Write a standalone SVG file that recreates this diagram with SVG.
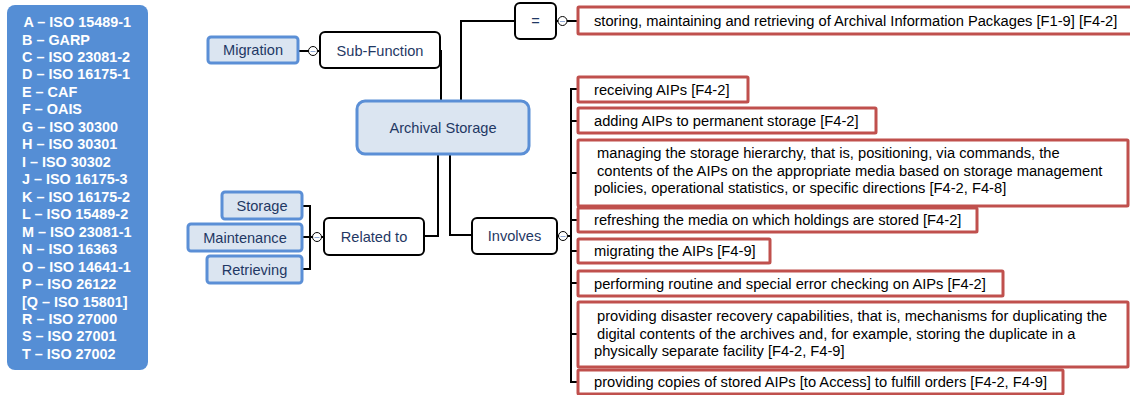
<svg xmlns="http://www.w3.org/2000/svg" width="1130" height="395" viewBox="0 0 1130 395">
<style>
.leg{font-family:"Liberation Sans",Arial,sans-serif;font-weight:bold;font-size:14.4px;fill:#ffffff}
.blue{fill:#dbe5f1;stroke:#5b8fd6;stroke-width:3}
.node{fill:#ffffff;stroke:#000000;stroke-width:2}
.red{fill:#ffffff;stroke:#c0504d;stroke-width:3}
.nt{font-family:"Liberation Sans",Arial,sans-serif;font-size:14.6px;fill:#1f3864;text-anchor:middle;dominant-baseline:central}
.rt{font-family:"Liberation Sans",Arial,sans-serif;font-size:14.7px;fill:#000000}
.con{fill:none;stroke:#000000;stroke-width:2}
.knob{fill:#ffffff;stroke:#000000;stroke-width:1}
.dash{stroke:#8fa9d6;stroke-width:1}
</style>
<defs>
<g id="knob"><circle class="knob" r="4.5"/><line class="dash" x1="-2.5" y1="0.5" x2="2.5" y2="0.5"/></g>
</defs>

<g id="legend">
<rect x="7" y="5" width="141" height="365" rx="8" fill="#558ed5"/>
<text class="leg" x="23.5" y="27">A – ISO 15489-1</text>
<text class="leg" x="22" y="44.5">B – GARP</text>
<text class="leg" x="22" y="62">C – ISO 23081-2</text>
<text class="leg" x="22" y="79.4">D – ISO 16175-1</text>
<text class="leg" x="22" y="96.9">E – CAF</text>
<text class="leg" x="22" y="114.4">F – OAIS</text>
<text class="leg" x="22" y="131.8">G – ISO 30300</text>
<text class="leg" x="22" y="149.3">H – ISO 30301</text>
<text class="leg" x="22" y="166.8">I – ISO 30302</text>
<text class="leg" x="22" y="184.2">J – ISO 16175-3</text>
<text class="leg" x="22" y="201.7">K – ISO 16175-2</text>
<text class="leg" x="22" y="219.2">L – ISO 15489-2</text>
<text class="leg" x="22" y="236.6">M – ISO 23081-1</text>
<text class="leg" x="22" y="254.1">N – ISO 16363</text>
<text class="leg" x="22" y="271.6">O – ISO 14641-1</text>
<text class="leg" x="22" y="289">P – ISO 26122</text>
<text class="leg" x="22" y="306.5">[Q – ISO 15801]</text>
<text class="leg" x="22" y="324">R – ISO 27000</text>
<text class="leg" x="22" y="341.4">S – ISO 27001</text>
<text class="leg" x="22" y="358.9">T – ISO 27002</text>
</g>

<g id="connectors">
<path class="con" d="M298,51 H309 M317.5,51 H320"/>
<path class="con" d="M441,50 V101"/>
<path class="con" d="M461,101 V21 H515"/>
<path class="con" d="M556,21 H558 M567,21 H578"/>
<path class="con" d="M424,236 H438 V154"/>
<path class="con" d="M450,154 V235 H472"/>
<path class="con" d="M302,206 H310 V269 H302 M302,237 H313 M321,237 H324"/>
<path class="con" d="M557,236 H559 M567.5,236 H571"/>
<path class="con" d="M578,89 H571 V382 H578 M571,121 H578 M571,173 H578 M571,220 H578 M571,251 H578 M571,283 H578 M571,334 H578"/>
<use href="#knob" x="313" y="51"/>
<use href="#knob" x="562.5" y="21"/>
<use href="#knob" x="317" y="237"/>
<use href="#knob" x="563" y="236"/>
</g>

<g id="n-archival"><rect class="blue" x="357" y="101" width="172" height="53" rx="8"/><text class="nt" x="443" y="127.5">Archival Storage</text></g>
<g id="n-subfunction"><rect class="node" x="320" y="32" width="120" height="36" rx="5"/><text class="nt" x="380" y="50.5">Sub-Function</text></g>
<g id="n-migration"><rect class="blue" x="208" y="37" width="90" height="26" rx="3"/><text class="nt" x="253" y="50">Migration</text></g>
<g id="n-equals"><rect class="node" x="515" y="3" width="41" height="36" rx="5"/><text class="nt" x="535.5" y="21">=</text></g>
<g id="n-related"><rect class="node" x="324" y="218" width="100" height="37" rx="5"/><text class="nt" x="374" y="237">Related to</text></g>
<g id="n-involves"><rect class="node" x="472" y="218" width="85" height="36" rx="5"/><text class="nt" x="514.5" y="236">Involves</text></g>
<g id="n-storage"><rect class="blue" x="222" y="192" width="80" height="27" rx="3"/><text class="nt" x="262" y="205.5">Storage</text></g>
<g id="n-maintenance"><rect class="blue" x="188" y="224" width="114" height="27" rx="3"/><text class="nt" x="245" y="237.5">Maintenance</text></g>
<g id="n-retrieving"><rect class="blue" x="207" y="256" width="95" height="27" rx="3"/><text class="nt" x="254.5" y="269.5">Retrieving</text></g>

<g id="n-def"><rect class="red" x="578" y="7" width="556" height="27" rx="1"/><text class="rt" x="594" y="25.5">storing, maintaining and retrieving of Archival Information Packages [F1-9] [F4-2]</text></g>
<g id="n-receiving"><rect class="red" x="578" y="77" width="170" height="25" rx="1"/><text class="rt" x="594" y="94.5">receiving AIPs [F4-2]</text></g>
<g id="n-adding"><rect class="red" x="578" y="108" width="298" height="25" rx="1"/><text class="rt" x="594" y="126">adding AIPs to permanent storage [F4-2]</text></g>
<g id="n-managing"><rect class="red" x="578" y="140" width="550" height="66" rx="1"/><text class="rt" x="597" y="158">managing the storage hierarchy, that is, positioning, via commands, the</text><text class="rt" x="597" y="175.5">contents of the AIPs on the appropriate media based on storage management</text><text class="rt" x="594" y="193">policies, operational statistics, or specific directions [F4-2, F4-8]</text></g>
<g id="n-refreshing"><rect class="red" x="578" y="208" width="399" height="24" rx="1"/><text class="rt" x="594" y="225">refreshing the media on which holdings are stored [F4-2]</text></g>
<g id="n-migrating"><rect class="red" x="578" y="239" width="192" height="24" rx="1"/><text class="rt" x="594" y="256">migrating the AIPs [F4-9]</text></g>
<g id="n-performing"><rect class="red" x="578" y="271" width="425" height="25" rx="1"/><text class="rt" x="594" y="288.5">performing routine and special error checking on AIPs [F4-2]</text></g>
<g id="n-disaster"><rect class="red" x="578" y="302" width="550" height="65" rx="1"/><text class="rt" x="597" y="320.5">providing disaster recovery capabilities, that is, mechanisms for duplicating the</text><text class="rt" x="597" y="338.5">digital contents of the archives and, for example, storing the duplicate in a</text><text class="rt" x="594" y="356">physically separate facility [F4-2, F4-9]</text></g>
<g id="n-copies"><rect class="red" x="578" y="370" width="485" height="24" rx="1"/><text class="rt" x="594" y="387">providing copies of stored AIPs [to Access] to fulfill orders [F4-2, F4-9]</text></g>
</svg>
